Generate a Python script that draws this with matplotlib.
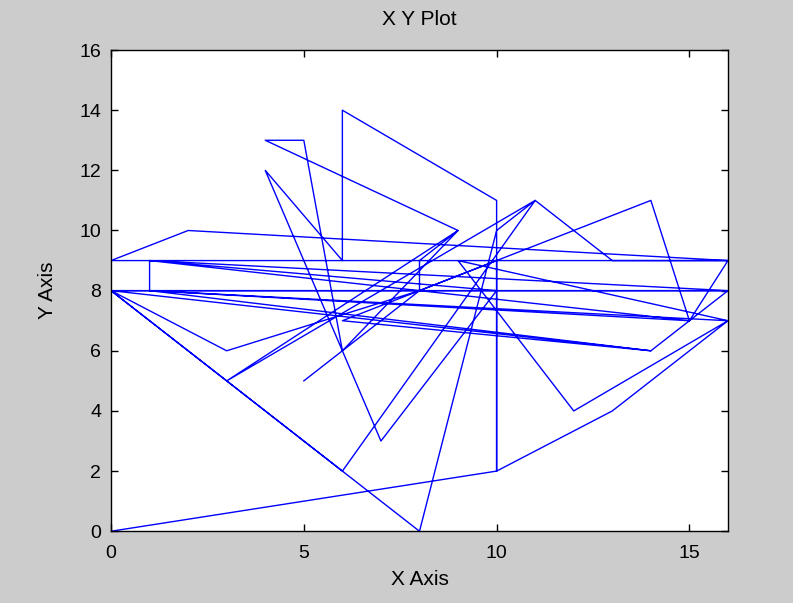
import matplotlib
matplotlib.use("Agg")
import matplotlib.pyplot as plt

# path of the line (integer grid points)
xs = [0, 10, 13, 16, 9, 12, 16, 1, 1, 16, 0, 14, 6, 14, 15, 16, 2, 0, 16, 13,
      11, 6, 0, 3, 8, 10, 10, 10, 6, 6, 4, 7, 10, 1, 15, 1, 14, 16, 0, 8,
      10, 11, 3, 9, 4, 5, 6, 9, 8, 8, 5]
ys = [0, 2, 4, 7, 9, 4, 7, 8, 9, 8, 8, 6, 7, 11, 7, 9, 10, 9, 9, 9,
      11, 2, 8, 6, 8, 9, 2, 11, 14, 9, 12, 3, 8, 9, 7, 8, 6, 8, 8, 0,
      10, 11, 5, 10, 13, 13, 6, 10, 9, 8, 5]

x_ticks = [0, 5, 10, 15]
y_ticks = list(range(0, 17, 2))

plt.rcParams['font.family'] = ['Liberation Sans', 'DejaVu Sans']

fig = plt.figure(figsize=(7.93, 6.03), dpi=100, facecolor="#cccccc")
ax = fig.add_axes([0.14, 0.119, 0.778, 0.798])
ax.plot(xs, ys, color="blue", linewidth=1)
ax.set_xlim(0, 16)
ax.set_ylim(0, 16)
ax.set_xticks(x_ticks)
ax.set_yticks(y_ticks)
ax.tick_params(direction="in", length=5, top=True, right=True, labelsize=14, width=1)
ax.tick_params(axis="x", pad=10)
ax.tick_params(axis="y", pad=7)
for s in ax.spines.values():
    s.set_linewidth(1)
ax.set_title("X Y Plot", fontsize=15, pad=18)
ax.set_xlabel("X Axis", fontsize=15, labelpad=6)
ax.set_ylabel("Y Axis", fontsize=15, labelpad=16)

fig.savefig("out.png", dpi=100, facecolor=fig.get_facecolor())
